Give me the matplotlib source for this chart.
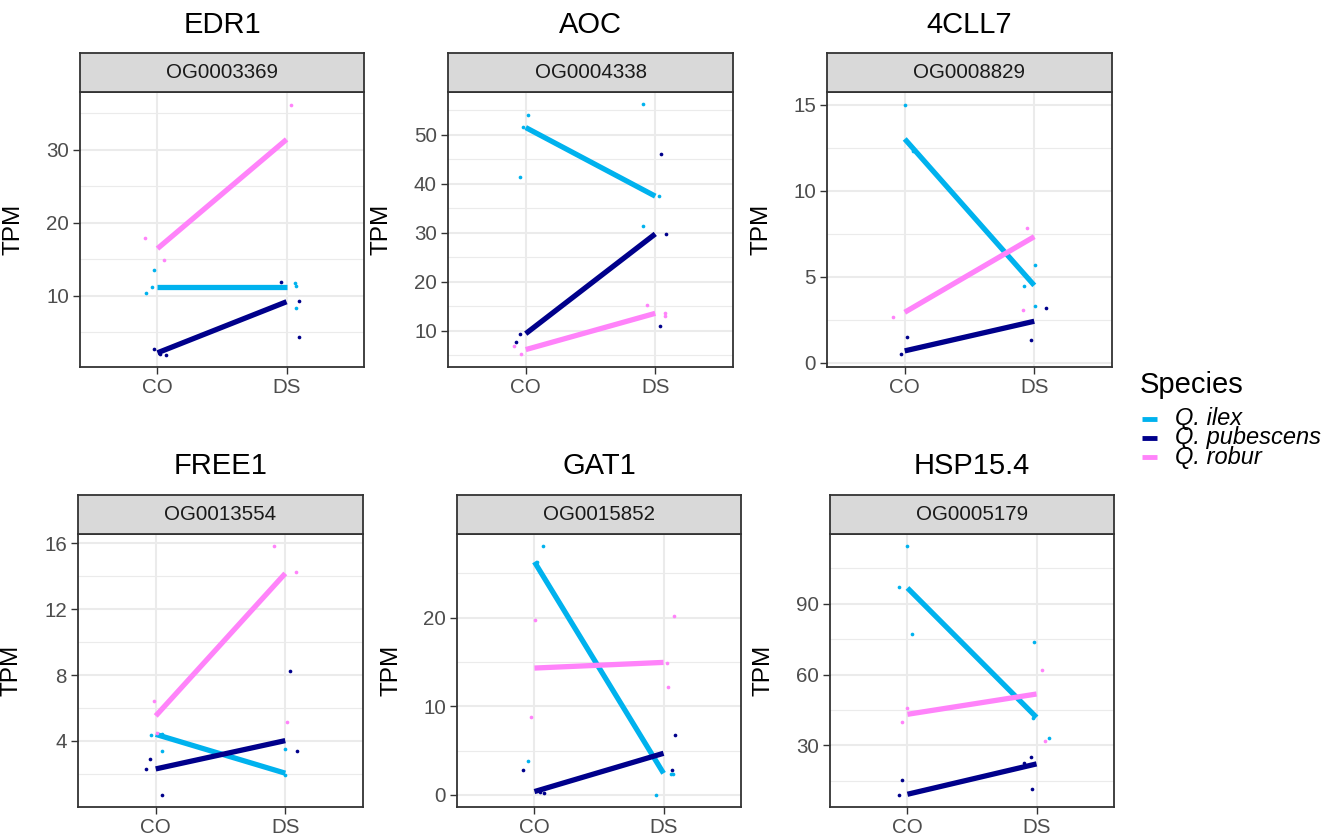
import matplotlib
matplotlib.use("Agg")
import matplotlib.pyplot as plt
from matplotlib.lines import Line2D
import numpy as np

plt.rcParams["font.family"] = ["Liberation Sans", "DejaVu Sans"]

genes = ["EDR1", "AOC", "4CLL7", "FREE1", "GAT1", "HSP15.4"]
orthogroups = ["OG0003369", "OG0004338", "OG0008829",
               "OG0013554", "OG0015852", "OG0005179"]
conditions = ["CO", "DS"]
species = ["Q. ilex", "Q. pubescens", "Q. robur"]
species_colors = ["#00B2EE", "#00008B", "#FF83FA"]
y_breaks = [[10, 20, 30], [10, 20, 30, 40, 50], [0, 5, 10, 15],
            [4, 8, 12, 16], [0, 10, 20], [30, 60, 90]]

# mean TPM per gene, (CO, DS)
mean_ilex = [(11.25, 11.25), (51.5, 37.5), (13.0, 4.5),
             (4.4, 2.04), (26.3, 2.44), (96.7, 41.9)]
mean_pubescens = [(2.18, 9.17), (9.45, 29.8), (0.7, 2.42),
                  (2.3, 4.02), (0.38, 4.7), (9.34, 22.2)]
mean_robur = [(16.44, 31.38), (6.2, 13.6), (2.94, 7.33),
              (5.52, 14.18), (14.32, 14.96), (43.2, 51.8)]

# replicate TPM per gene, and the jitter they were drawn with
ilex_co = [[13.45, 11.24, 10.37], [54.0, 51.6, 41.4], [15.0, 12.33],
           [4.36, 4.4, 3.37], [28.05, 26.3, 3.83], [114.3, 97.2, 77.3]]
ilex_co_jit = [[-0.03, -0.04, -0.09], [0.018, -0.02, -0.046], [0.0, 0.06],
               [-0.034, 0.05, 0.05], [0.07, 0.02, -0.051], [-0.005, -0.064, 0.034]]
ilex_ds = [[11.7, 11.29, 8.3], [56.2, 37.5, 31.5], [5.71, 4.44, 3.33],
           [3.53, 1.92], [0.04, 2.33, 2.33], [74.0, 33.25, 41.7]]
ilex_ds_jit = [[0.067, 0.077, 0.077], [-0.097, 0.03, -0.097], [0.005, -0.077, 0.005],
               [0.0, -0.005], [-0.056, 0.056, 0.072], [-0.02, 0.095, -0.03]]

pubescens_co = [[2.64, 1.95, 2.0], [9.4, 7.7], [1.5, 0.49],
                [2.9, 2.3, 0.74], [2.82, 0.19, 0.3], [15.3, 9.2]]
pubescens_co_jit = [[-0.026, 0.07, 0.02], [-0.046, -0.074], [0.015, -0.03],
                    [-0.047, -0.078, 0.047], [-0.087, 0.077, 0.04], [-0.041, -0.064]]
pubescens_ds = [[11.84, 9.31, 4.34], [46.1, 29.8, 11.1], [3.16, 1.34],
                [8.27, 3.39], [6.73, 2.78], [25.3, 22.4, 11.5]]
pubescens_ds_jit = [[-0.04, 0.098, 0.1], [0.044, 0.082, 0.038], [0.093, -0.023],
                    [0.036, 0.088], [0.087, 0.069], [-0.046, -0.1, -0.034]]

robur_co = [[17.86, 14.83], [6.85, 5.2], [2.67],
            [6.41, 4.5], [19.7, 8.83], [46.0, 39.9]]
robur_co_jit = [[-0.093, 0.05], [-0.092, -0.033], [-0.088],
                [-0.016, 0.013], [0.008, -0.028], [0.0, -0.039]]
robur_ds = [[36.16], [15.2, 13.6, 13.0], [7.85, 3.1],
            [15.82, 14.28, 5.13], [20.19, 14.92, 12.14], [61.8, 32.1]]
robur_ds_jit = [[0.034], [-0.064, 0.072, 0.077], [-0.059, -0.09],
                [-0.09, 0.085, 0.013], [0.082, 0.023, 0.033], [0.039, 0.062]]

means = [mean_ilex, mean_pubescens, mean_robur]
points = [
    [(ilex_co, ilex_co_jit), (ilex_ds, ilex_ds_jit)],
    [(pubescens_co, pubescens_co_jit), (pubescens_ds, pubescens_ds_jit)],
    [(robur_co, robur_co_jit), (robur_ds, robur_ds_jit)],
]

W, H = 1325, 834
# panel boxes in pixels: left, top, right, bottom
panel_px = [(80, 92, 364, 367), (448, 92, 733, 367), (827, 92, 1112, 367),
            (78, 534, 363, 807), (457, 534, 741, 807), (830, 534, 1114, 807)]
ylab_px = [24, 392, 773, 23, 402, 775]
strip_h = 39


def box(l, t, r, b):
    return [l / W, 1 - b / H, (r - l) / W, (b - t) / H]


fig = plt.figure(figsize=(W / 100, H / 100), dpi=100)

for i, gene in enumerate(genes):
    l, t, r, b = panel_px[i]
    ax = fig.add_axes(box(l, t, r, b))

    all_vals = []
    for s in range(3):
        for cond in range(2):
            vals, jit = points[s][cond]
            all_vals += vals[i]
    lo, hi = min(all_vals), max(all_vals)
    pad = (hi - lo) * 0.05
    ylo, yhi = lo - pad, hi + pad

    for s in range(3):
        ax.plot([1, 2], means[s][i], color=species_colors[s], lw=3.8,
                solid_capstyle="butt", zorder=3)
        for cond in range(2):
            vals, jit = points[s][cond]
            ax.scatter(cond + 1 + np.array(jit[i]), vals[i], s=7,
                       color=species_colors[s], linewidths=0, zorder=4)

    ax.set_xlim(0.4, 2.6)
    ax.set_ylim(ylo, yhi)
    brk = y_breaks[i]
    step = brk[1] - brk[0]
    minor = [v + step / 2 for v in [brk[0] - step] + brk]
    minor = [v for v in minor if ylo < v < yhi]
    ax.set_yticks(brk)
    ax.set_yticks(minor, minor=True)
    ax.set_xticks([1, 2])
    ax.set_xticklabels(conditions)
    ax.grid(True, which="major", color="#EBEBEB", lw=1.5)
    ax.grid(True, which="minor", axis="y", color="#EBEBEB", lw=0.8)
    ax.set_axisbelow(True)
    ax.tick_params(which="major", length=5, width=1.0, color="#333333",
                   labelsize=14.8, labelcolor="#4D4D4D", pad=3)
    ax.tick_params(which="minor", length=0)
    for sp in ax.spines.values():
        sp.set_color("#333333")
        sp.set_linewidth(1.3)
    ax.set_ylabel("TPM", fontsize=17.6)
    ax.yaxis.set_label_coords((ylab_px[i] - l) / (r - l), 0.5)

    sx = fig.add_axes(box(l, t - strip_h, r, t))
    sx.set_facecolor("#D9D9D9")
    sx.set_xticks([])
    sx.set_yticks([])
    for sp in sx.spines.values():
        sp.set_color("#333333")
        sp.set_linewidth(1.3)
    sx.text(0.5, 0.5, orthogroups[i], ha="center", va="center",
            fontsize=14.8, color="#1A1A1A", transform=sx.transAxes)

    title_y = 25 if i < 3 else 466
    fig.text((l + r) / 2 / W, 1 - title_y / H, gene, ha="center",
             va="center", fontsize=21)

# legend
fig.text(1140 / W, 1 - 385 / H, "Species", ha="left", va="center", fontsize=21)
for k, name in enumerate(species):
    yk = 1 - (419 + 19 * k) / H
    fig.add_artist(Line2D([1142 / W, 1157 / W], [yk, yk], transform=fig.transFigure,
                          color=species_colors[k], lw=3.5, solid_capstyle="butt"))
    fig.text(1175 / W, yk, name, ha="left", va="center", fontsize=17,
             style="italic")

fig.savefig("out.png", dpi=100)
